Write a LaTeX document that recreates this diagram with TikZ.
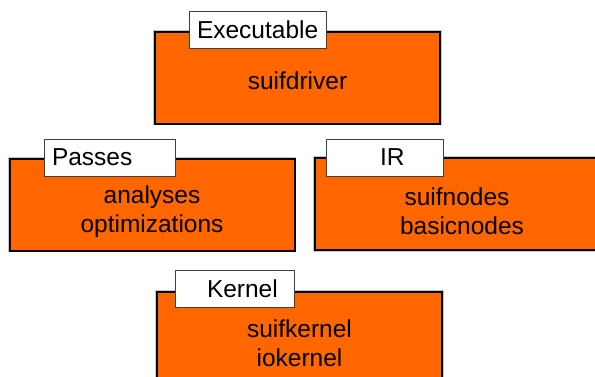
\documentclass[tikz,border=0pt]{standalone}
\usepackage{fontspec}
\setmainfont{Liberation Sans}
\definecolor{suiforange}{RGB}{255,102,0}
\tikzset{
	layer/.style={draw=black,line width=2pt,fill=suiforange,minimum width=285pt,minimum height=92pt,
		preaction={draw=gray!45,line width=3.6pt}},
	tag/.style={draw=black!75,line width=0.8pt,fill=white,inner xsep=8pt,inner ysep=0pt,
		align=left,minimum height=37pt,font=\fontsize{24.5}{28.5}\selectfont},
	body/.style={align=center,font=\fontsize{24.5}{28.5}\selectfont}
}
\begin{document}
\begin{tikzpicture}[x=1pt,y=-1pt]
	\useasboundingbox (0,0) rectangle (595,376);
	\clip (0,0) rectangle (595,376);
	\node[layer] (driver) at (297.5,77.5) {};
	\node[layer] (passes) at (152,204.5) {};
	\node[layer] (ir) at (457,204) {};
	\node[layer] (kernel) at (299.5,338) {};
	\node[body] (drivertext) at ([yshift=-3pt]driver.center) {suifdriver};
	\node[body] (passestext) at ([yshift=-7pt]passes.center) {analyses\\optimizations};
	\node[body] (irtext) at ([yshift=-7pt]ir.center) {suifnodes\\\hspace{10pt}basicnodes};
	\node[body] (kerneltext) at ([yshift=-5pt]kernel.center) {suifkernel\\iokernel};
	\node[tag,text width=121pt] (exetag) at (257.5,30) {Executable};
	\node[tag,text width=115pt] (passtag) at (109.5,157.5) {Passes};
	\node[tag,text width=101pt] (irtag) at (384.5,157.5) {\hspace{46pt}IR};
	\node[tag,text width=103pt] (kerneltag) at (234.5,288.5) {\hspace{24pt}Kernel};
\end{tikzpicture}
\end{document}
